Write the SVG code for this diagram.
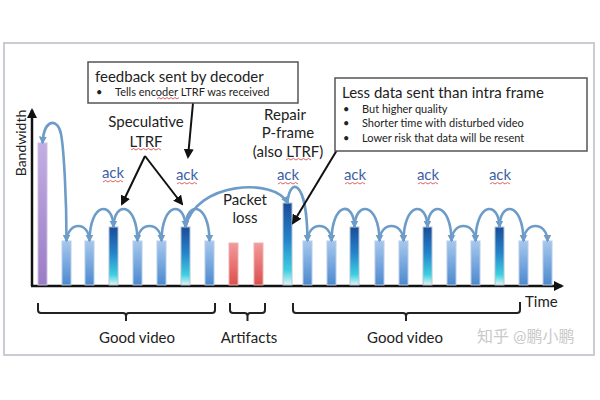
<svg xmlns="http://www.w3.org/2000/svg" width="600" height="400" viewBox="0 0 600 400">
<defs>
<style>
text{font-family:Lato,"Liberation Sans","Noto Sans CJK SC",sans-serif;fill:#222}
.t15{font-size:15px}
.t14{font-size:14px}
.sm{font-size:11px}
.ack{font-size:15px;fill:#3f5fa6;text-anchor:middle}
.c{text-anchor:middle}
.arc{fill:none;stroke:#6d9cc8;stroke-width:2.6;marker-end:url(#ah)}
.blk{fill:none;stroke:#111;stroke-width:2}
.brace{fill:none;stroke:#222;stroke-width:2}
.sq{fill:none;stroke:#e06060;stroke-width:1}
.nb{fill:url(#gN);stroke:#b9cde6;stroke-width:1}
.db{fill:url(#gD);stroke:#b4c4d4;stroke-width:1}
.rb{fill:url(#gR);stroke:#f0b0b0;stroke-width:1}
.box{fill:#fff;stroke:#555;stroke-width:1.5}
</style>
<linearGradient id="gN" x1="0" y1="0" x2="0" y2="1"><stop offset="0" stop-color="#a6c8ee"/><stop offset="1" stop-color="#4c89cf"/></linearGradient>
<linearGradient id="gD" x1="0" y1="0" x2="0" y2="1"><stop offset="0" stop-color="#1a4c98"/><stop offset="0.45" stop-color="#2584cc"/><stop offset="0.82" stop-color="#3ccfe0"/><stop offset="1" stop-color="#e2f5f8"/></linearGradient>
<linearGradient id="gR" x1="0" y1="0" x2="0" y2="1"><stop offset="0" stop-color="#f39a9a"/><stop offset="1" stop-color="#dc4f4f"/></linearGradient>
<linearGradient id="gP" x1="0" y1="0" x2="0" y2="1"><stop offset="0" stop-color="#c4aee2"/><stop offset="1" stop-color="#9a7cc6"/></linearGradient>
<marker id="ah" viewBox="0 0 10 10" refX="8" refY="5" markerWidth="8" markerHeight="8" markerUnits="userSpaceOnUse" orient="auto-start-reverse"><path d="M0,0 L10,5 L0,10 z" fill="#6d9cc8"/></marker>
<marker id="bh" viewBox="0 0 10 10" refX="8" refY="5" markerWidth="10" markerHeight="10" markerUnits="userSpaceOnUse" orient="auto"><path d="M0,0 L10,5 L0,10 z" fill="#111"/></marker>
</defs>
<rect x="0" y="0" width="600" height="400" fill="#fff"/>
<rect x="4" y="43" width="590" height="312" fill="#fff" stroke="#c9cdd2" stroke-width="2"/>

<g id="axes">
<line x1="32" y1="286" x2="32" y2="110" stroke="#111" stroke-width="2.5" marker-end="url(#bh)"/>
<line x1="31" y1="286" x2="562" y2="286" stroke="#111" stroke-width="2.5" marker-end="url(#bh)"/>
<text class="t14" transform="translate(26,143) rotate(-90)" text-anchor="middle">Bandwidth</text>
<text class="t15" x="525" y="307">Time</text>
</g>

<g id="frames">
<rect id="intra" x="38" y="143" width="9" height="142" fill="url(#gP)" stroke="#cdbfe4" stroke-width="1"/>
<rect class="nb" x="62" y="241" width="9" height="44"/>
<rect class="nb" x="85" y="241" width="9" height="44"/>
<rect class="db" x="109" y="227" width="9" height="58"/>
<rect class="nb" x="133" y="241" width="9" height="44"/>
<rect class="nb" x="157" y="241" width="9" height="44"/>
<rect class="db" x="181" y="227" width="9" height="58"/>
<rect class="nb" x="205" y="241" width="9" height="44"/>
<rect class="rb" x="229" y="243" width="9" height="42"/>
<rect class="rb" x="254" y="243" width="9" height="42"/>
<rect class="db" x="283" y="203" width="9" height="82"/>
<rect class="nb" x="303" y="241" width="9" height="44"/>
<rect class="nb" x="327" y="241" width="9" height="44"/>
<rect class="db" x="350" y="227" width="9" height="58"/>
<rect class="nb" x="375" y="241" width="9" height="44"/>
<rect class="nb" x="399" y="241" width="9" height="44"/>
<rect class="db" x="423" y="227" width="9" height="58"/>
<rect class="nb" x="447" y="241" width="9" height="44"/>
<rect class="nb" x="471" y="241" width="9" height="44"/>
<rect class="db" x="495" y="227" width="9" height="58"/>
<rect class="nb" x="519" y="241" width="9" height="44"/>
<rect class="nb" x="543" y="241" width="9" height="44"/>
</g>

<g id="connectors">
<path class="arc" style="marker-start:url(#ah)" d="M42.5,143 C44,118 58,118 61,134 C64,150 66.5,200 66.5,241"/>
<path class="arc" d="M66.5,241 C68,221 89,221 89.5,241"/>
<path class="arc" d="M89.5,241 C90,201 113,201 113.5,227"/>
<path class="arc" d="M113.5,227 C114,201 137,201 137.5,241"/>
<path class="arc" d="M137.5,241 C138,221 161,221 161.5,241"/>
<path class="arc" d="M161.5,241 C162,201 185,201 185.5,227"/>
<path class="arc" d="M185.5,227 C186,201 209,201 209.5,241"/>
<path class="arc" d="M185.5,227 C195,182 275,177 287.5,203"/>
<path class="arc" d="M287.5,203 C289,178 307,176 307.5,241"/>
<path class="arc" d="M307.5,241 C308,221 331,221 331.5,241"/>
<path class="arc" d="M331.5,241 C332,201 354,201 354.5,227"/>
<path class="arc" d="M354.5,227 C355,201 379,201 379.5,241"/>
<path class="arc" d="M379.5,241 C380,221 403,221 403.5,241"/>
<path class="arc" d="M403.5,241 C404,201 427,201 427.5,227"/>
<path class="arc" d="M427.5,227 C428,201 451,201 451.5,241"/>
<path class="arc" d="M451.5,241 C452,221 475,221 475.5,241"/>
<path class="arc" d="M475.5,241 C476,201 499,201 499.5,227"/>
<path class="arc" d="M499.5,227 C500,201 523,201 523.5,241"/>
<path class="arc" d="M523.5,241 C524,221 547,221 547.5,241"/>
<path class="blk" marker-end="url(#bh)" d="M193,103 L188,157"/>
<path class="blk" marker-end="url(#bh)" d="M145,156 L122,204"/>
<path class="blk" marker-end="url(#bh)" d="M145,156 L182,204"/>
<path class="blk" marker-end="url(#bh)" d="M337,150 L293,223"/>
</g>

<g id="feedback-box">
<rect class="box" x="88" y="62" width="210" height="41"/>
<text class="t15" x="95" y="82">feedback sent by decoder</text>
<text class="sm" x="96" y="96">•</text>
<text class="sm" x="115" y="96">Tells encoder LTRF was received</text>
<path class="sq" d="M157,99 l2,-1.5 l2,1.5 l2,-1.5 l2,1.5 l2,-1.5 l2,1.5 l2,-1.5 l2,1.5 l2,-1.5 l2,1.5 l2,-1.5"/>
</g>

<g id="less-data-box">
<rect class="box" x="335" y="78" width="252" height="73"/>
<text class="t15" x="342" y="98">Less data sent than intra frame</text>
<text class="sm" x="343" y="113">•</text>
<text class="sm" x="362" y="113">But higher quality</text>
<text class="sm" x="343" y="127">•</text>
<text class="sm" x="362" y="127">Shorter time with disturbed video</text>
<text class="sm" x="343" y="142">•</text>
<text class="sm" x="362" y="142">Lower risk that data will be resent</text>
</g>

<g id="labels">
<text class="t15 c" x="146" y="127">Speculative</text>
<text class="t15 c" x="146" y="147">LTRF</text>
<path class="sq" d="M131,150 l2.5,-1.5 l2.5,1.5 l2.5,-1.5 l2.5,1.5 l2.5,-1.5 l2.5,1.5 l2.5,-1.5 l2.5,1.5 l2.5,-1.5 l2.5,1.5 l2.5,-1.5 l2.5,1.5"/>
<text class="t15 c" x="285" y="120">Repair</text>
<text class="t15 c" x="288" y="138">P-frame</text>
<text class="t15 c" x="288" y="157">(also LTRF)</text>
<path class="sq" d="M286,160 l2.5,-1.5 l2.5,1.5 l2.5,-1.5 l2.5,1.5 l2.5,-1.5 l2.5,1.5 l2.5,-1.5 l2.5,1.5 l2.5,-1.5 l2.5,1.5"/>
<text class="t15 c" x="245" y="205">Packet</text>
<text class="t15 c" x="245" y="223">loss</text>
<text class="ack" x="113" y="178">ack</text>
<text class="ack" x="187" y="180">ack</text>
<text class="ack" x="288" y="180">ack</text>
<text class="ack" x="355" y="180">ack</text>
<text class="ack" x="428" y="180">ack</text>
<text class="ack" x="500" y="180">ack</text>
<g class="sq">
<path d="M103,182 l2.5,-1.5 l2.5,1.5 l2.5,-1.5 l2.5,1.5 l2.5,-1.5 l2.5,1.5 l2.5,-1.5 l2.5,1.5"/>
<path d="M177,184 l2.5,-1.5 l2.5,1.5 l2.5,-1.5 l2.5,1.5 l2.5,-1.5 l2.5,1.5 l2.5,-1.5 l2.5,1.5"/>
<path d="M278,184 l2.5,-1.5 l2.5,1.5 l2.5,-1.5 l2.5,1.5 l2.5,-1.5 l2.5,1.5 l2.5,-1.5 l2.5,1.5"/>
<path d="M345,184 l2.5,-1.5 l2.5,1.5 l2.5,-1.5 l2.5,1.5 l2.5,-1.5 l2.5,1.5 l2.5,-1.5 l2.5,1.5"/>
<path d="M418,184 l2.5,-1.5 l2.5,1.5 l2.5,-1.5 l2.5,1.5 l2.5,-1.5 l2.5,1.5 l2.5,-1.5 l2.5,1.5"/>
<path d="M490,184 l2.5,-1.5 l2.5,1.5 l2.5,-1.5 l2.5,1.5 l2.5,-1.5 l2.5,1.5 l2.5,-1.5 l2.5,1.5"/>
</g>
</g>

<g id="braces">
<path class="brace" d="M38,303 L38,310 Q38,313 41,313 L123,313 Q126,313 126,316 L126,321 M126,316 Q126,313 129,313 L212,313 Q215,313 215,310 L215,303"/>
<path class="brace" d="M230,303 L230,310 Q230,313 233,313 L244.5,313 Q247.5,313 247.5,316 L247.5,321 M247.5,316 Q247.5,313 250.5,313 L262,313 Q265,313 265,310 L265,303"/>
<path class="brace" d="M293,303 L293,310 Q293,313 296,313 L403,313 Q406,313 406,316 L406,321 M406,316 Q406,313 409,313 L517,313 Q520,313 520,310 L520,302"/>
<text class="t15 c" x="137" y="343">Good video</text>
<text class="t15 c" x="249" y="343">Artifacts</text>
<text class="t15 c" x="405" y="343">Good video</text>
<text x="477" y="342" style="font-size:16px;fill:#c9c9c9">知乎 @鹏小鹏</text>
</g>
</svg>
